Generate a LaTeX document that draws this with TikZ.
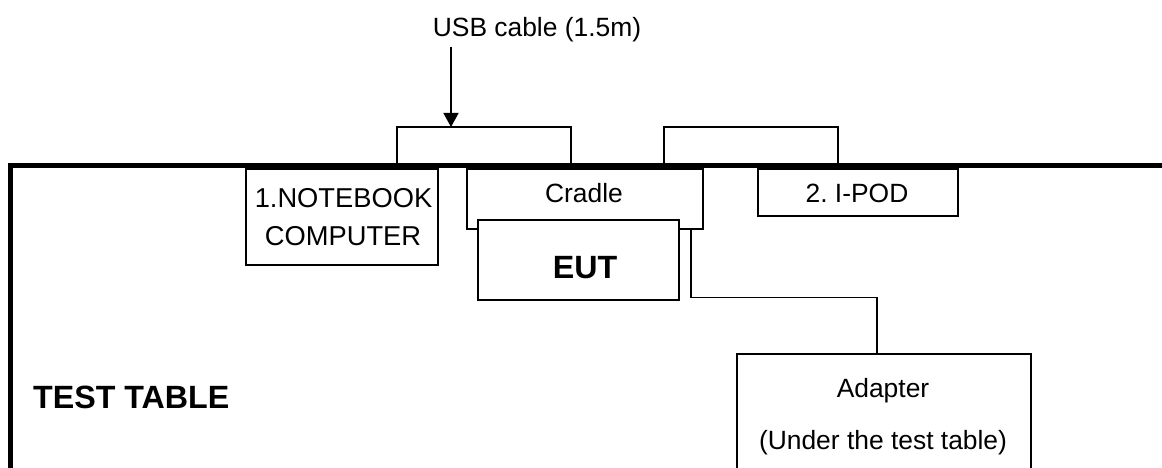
\documentclass[tikz,border=0pt]{standalone}
\usepackage{fontspec}
\setmainfont{Liberation Sans}
\usetikzlibrary{arrows.meta,calc}
\frenchspacing
\begin{document}
\begin{tikzpicture}[x=1pt,y=-1pt,
  box/.style={draw,line width=1.6pt,fill=white,inner sep=0pt,anchor=north west},
  wire/.style={line width=1.6pt},
  lbl/.style={font=\fontsize{26.4}{30}\selectfont,anchor=base,inner sep=0pt},
  nblbl/.style={lbl,font=\fontsize{27.3}{31}\selectfont},
  blbl/.style={font=\fontsize{32.2}{36}\selectfont\bfseries,anchor=base,inner sep=0pt},
  tbl/.style={line width=4.5pt,line join=miter}]
\clip (0,0) rectangle (1162,468);

% test table edges
\draw[tbl] (10.5,520) -- (10.5,165.5) -- (1180,165.5);

% devices on the table
\node[box,minimum width=192pt,minimum height=96pt] (nb) at (245,168) {};
\node[box,minimum width=236pt,minimum height=60pt] (cradle) at (466,168) {};
\node[box,minimum width=201pt,minimum height=80pt] (eut) at (477,219) {};
\node[box,minimum width=200pt,minimum height=47pt] (ipod) at (757,168) {};
\node[box,minimum width=294pt,minimum height=160pt] (adapter) at (736,353) {};

% labels
\node[nblbl] (nbA) at (343.5,207.5) {1.NOTEBOOK};
\node[nblbl] (nbB) at (343,245.5) {COMPUTER};
\node[lbl] (cradleT) at (584,202) {Cradle};
\node[blbl] (eutT) at (585,278) {EUT};
\node[lbl] (ipodT) at (857,202) {2. I-POD};
\node[lbl] (adA) at (883,397) {Adapter};
\node[lbl] (adB) at (883,449) {(Under the test table)};
\node[blbl,anchor=base west] (tableT) at (33,408) {TEST TABLE};
\node[lbl] (usb) at (537,37) {USB cable (1.5m)};

% cables
\draw[wire] ($(nb.north west)+(152,0)$) -- ++(0,-41) -| ($(cradle.north west)+(105,0)$);
\draw[wire] ($(cradle.north west)+(198,0)$) -- ++(0,-41) -| ($(ipod.north west)+(81,0)$);
\draw[wire] ($(cradle.south west)+(225,0)$) -- ++(0,68) -| ($(adapter.north west)+(141,0)$);

% pointer to the USB cable
\coordinate (tip) at (451,127);
\draw[wire,-{Triangle[width=15pt,length=14pt]}] ($(tip |- usb.south)+(0,4)$) -- (tip);
\end{tikzpicture}
\end{document}
